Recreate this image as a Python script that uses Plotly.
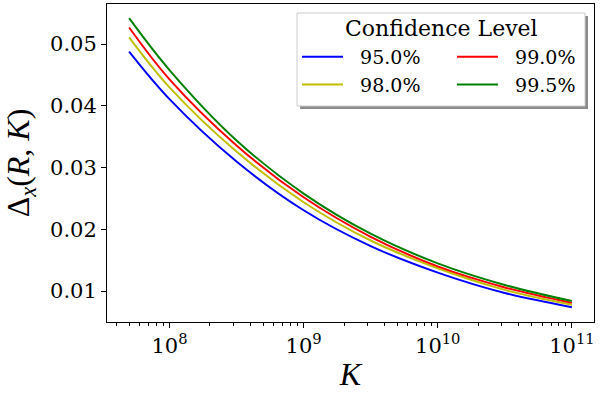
import plotly.graph_objects as go

# valores
K = [5e7, 1e8, 3.16e8, 1e9, 3.16e9, 1e10, 3.16e10, 1e11]

delta_95 = [0.0488, 0.0411, 0.0310, 0.0231, 0.0173, 0.0130, 0.0097, 0.0074]
delta_98 = [0.0511, 0.0430, 0.0326, 0.0244, 0.0182, 0.0137, 0.0102, 0.0078]
delta_99 = [0.0527, 0.0443, 0.0336, 0.0252, 0.0188, 0.0140, 0.0106, 0.0081]
delta_995 = [0.0542, 0.0458, 0.0344, 0.0258, 0.0193, 0.0145, 0.0110, 0.0084]

x_ticks = [1e8, 1e9, 1e10, 1e11]
x_labels = ['10<sup>8</sup>', '10<sup>9</sup>', '10<sup>10</sup>', '10<sup>11</sup>']
y_ticks = [0.01, 0.02, 0.03, 0.04, 0.05]

minor_vals = [m * 10 ** e for e in range(7, 11) for m in range(2, 10)]

# (nome, valores, cor, legenda) -> duas colunas como no ncol=2 do matplotlib
series = [
    ('95.0%', delta_95, '#0000ff', 'legend'),
    ('98.0%', delta_98, '#bfbf00', 'legend'),
    ('99.0%', delta_99, '#ff0000', 'legend2'),
    ('99.5%', delta_995, '#008000', 'legend2'),
]

serif = 'DejaVu Serif, Liberation Serif, serif'

# coordenadas em pixels -> papel
L, T, W, H = 107, 4, 487, 318
px_x = lambda p: (p - L) / W
px_y = lambda p: 1 - (p - T) / H

fig = go.Figure()

for nome, valores, cor, leg in series:
    fig.add_trace(go.Scatter(
        x=K, y=valores, name='\u00a0\u00a0' + nome, mode='lines',
        line=dict(color=cor, width=2, shape='spline'),
        legend=leg
    ))

# caixa da legenda com sombra
fig.add_shape(type='rect', xref='paper', yref='paper',
              x0=px_x(300), x1=px_x(588), y0=px_y(109), y1=px_y(16),
              fillcolor='#8c8c8c', line=dict(width=0), layer='above')
fig.add_shape(type='rect', xref='paper', yref='paper',
              x0=px_x(297), x1=px_x(585), y0=px_y(106), y1=px_y(13),
              fillcolor='white', line=dict(color='#cccccc', width=1), layer='above')
fig.add_annotation(text='Confidence Level', xref='paper', yref='paper',
                   x=px_x(441.5), y=px_y(29), showarrow=False,
                   xanchor='center', yanchor='middle',
                   font=dict(size=22, family=serif))

legenda = dict(
    orientation='v', bgcolor='rgba(0,0,0,0)', borderwidth=0,
    font=dict(size=19, family=serif), itemwidth=41,
    xanchor='left', yanchor='top', tracegroupgap=0,
)

fig.update_layout(
    width=600, height=396,
    margin=dict(l=L, r=600 - L - W, t=T, b=396 - T - H),
    plot_bgcolor='white', paper_bgcolor='white',
    font=dict(family=serif, color='black'),
    showlegend=True,
    legend=dict(legenda, x=px_x(297), y=px_y(38)),
    legend2=dict(legenda, x=px_x(452), y=px_y(38)),
    xaxis=dict(
        type='log', range=[7.534, 11.165],
        tickvals=x_ticks, ticktext=x_labels,
        ticks='outside', ticklen=5, tickcolor='black',
        tickfont=dict(size=21, family=serif),
        minor=dict(tickvals=minor_vals, ticks='outside', ticklen=3, tickcolor='black'),
        showline=True, mirror=True, linecolor='black', linewidth=1,
        showgrid=False, zeroline=False,
        title=dict(text='<i>K</i>', font=dict(size=32, family='Liberation Serif'), standoff=5),
    ),
    yaxis=dict(
        range=[0.005, 0.0565],
        tickvals=y_ticks, tickformat='.2f',
        ticks='outside', ticklen=5, tickcolor='black',
        tickfont=dict(size=21, family=serif),
        showline=True, mirror=True, linecolor='black', linewidth=1,
        showgrid=False, zeroline=False,
        title=dict(text='Δ<sub><i>x</i></sub>(<i>R</i>, <i>K</i>)',
                   font=dict(size=32, family='Liberation Serif'), standoff=12),
    ),
)

# sem a margem padrão da página e sem a barra de ferramentas
fig.write_html("out.html", config={'displayModeBar': False},
               post_script="document.body.style.margin='0';")
